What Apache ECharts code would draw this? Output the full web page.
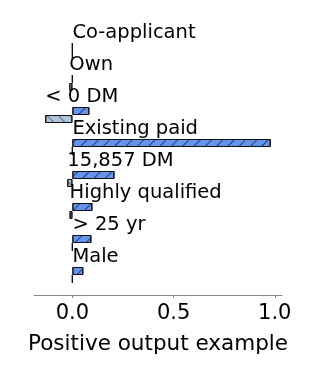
<!DOCTYPE html>
<html>
<head>
<meta charset="utf-8">
<script src="https://cdn.jsdelivr.net/npm/echarts@6/dist/echarts.min.js"></script>
<style>
  html, body { margin: 0; padding: 0; background: #fff; }
  #chart { width: 316px; height: 379px; }
</style>
</head>
<body>
<div id="chart"></div>
<script>
const features = ["Co-applicant", "Own", "< 0 DM", "Existing paid", "15,857 DM", "Highly qualified", "> 25 yr", "Male"];
const positiveValues = [0, 0, 0.084, 0.98, 0.208, 0.099, 0.094, 0.054];
const negativeValues = [0, -0.015, -0.134, 0, -0.025, -0.014, 0, 0];
const xTicks = [0, 0.5, 1.0];
const xAxisTitle = "Positive output example";

const FONT = "DejaVu Sans";
const allVals = positiveValues.concat(negativeValues);
const dMin = Math.min.apply(null, allVals), dMax = Math.max.apply(null, allVals);
const pad = (dMax - dMin) * 0.05;

const labelData = features.map((f, i) => [Math.min(0, positiveValues[i], negativeValues[i]), i]);

const chart = echarts.init(document.getElementById('chart'), null, { renderer: 'canvas' });
chart.setOption({
  animation: false,
  backgroundColor: '#fff',
  grid: { left: 34, right: 34, top: 35, height: 256, containLabel: false },
  xAxis: {
    type: 'value',
    min: dMin - pad,
    max: dMax + pad,
    offset: 4,
    splitLine: { show: false },
    axisLine: { show: true, onZero: false, lineStyle: { color: '#8a8a8a', width: 1.2 } },
    axisTick: { show: true, length: 3, customValues: xTicks, lineStyle: { color: '#8a8a8a' } },
    axisLabel: { customValues: xTicks, formatter: v => v.toFixed(1), color: '#000', fontFamily: FONT, fontSize: 21, margin: 8 },
    name: xAxisTitle,
    nameLocation: 'middle',
    nameGap: 38,
    nameTextStyle: { color: '#000', fontFamily: FONT, fontSize: 21.5 }
  },
  yAxis: {
    type: 'category',
    data: features,
    inverse: true,
    axisLine: { show: false },
    axisTick: { show: false },
    axisLabel: { show: false },
    splitLine: { show: false }
  },
  series: [
    {
      type: 'bar',
      data: positiveValues,
      barWidth: 8,
      barGap: '0%',
      itemStyle: {
        color: '#6495ED',
        borderColor: '#111',
        borderWidth: 1,
        decal: { symbol: 'rect', symbolSize: 1, dashArrayX: [1, 0], dashArrayY: [1, 7], rotation: -Math.PI / 4, color: 'rgba(20,30,80,0.75)' }
      }
    },
    {
      type: 'bar',
      data: negativeValues,
      barWidth: 8,
      barGap: '0%',
      itemStyle: {
        color: '#B0C4DE',
        borderColor: '#111',
        borderWidth: 1,
        decal: { symbol: 'rect', symbolSize: 1, dashArrayX: [1, 0], dashArrayY: [1, 7], rotation: Math.PI / 4, color: 'rgba(40,50,80,0.6)' }
      }
    },
    {
      type: 'custom',
      data: labelData,
      renderItem: function (params, api) {
        const p = api.coord([api.value(0), api.value(1)]);
        return {
          type: 'text',
          style: {
            text: features[params.dataIndex],
            x: p[0],
            y: p[1] - 18.5,
            align: 'left',
            verticalAlign: 'middle',
            fontFamily: FONT,
            fontSize: 19.5,
            fill: '#000'
          }
        };
      },
      z: 5
    }
  ]
});
</script>
</body>
</html>
